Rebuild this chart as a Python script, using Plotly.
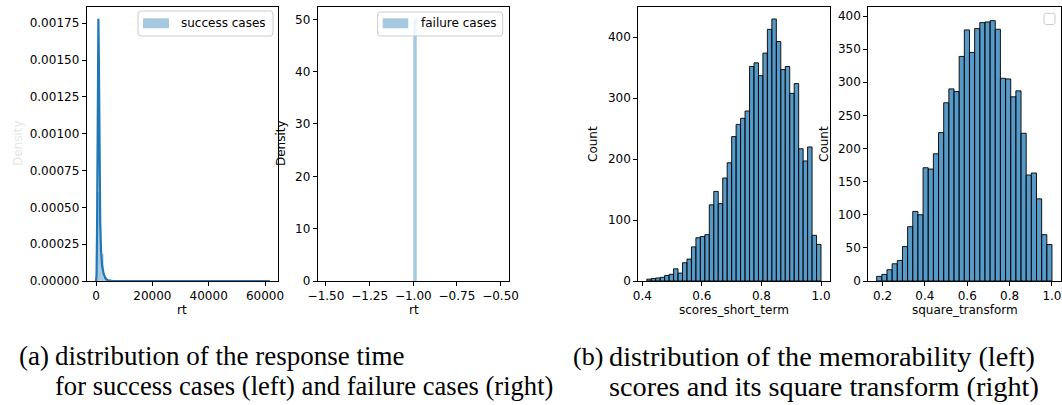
import numpy as np
import plotly.graph_objects as go

W, H = 1062, 405

# ---------------- data ----------------
# (a-left) response time, success cases: density histogram (50 bins) + KDE
rt_bin_lo = 200.0
rt_bin_width = 1230.0
rt_success_density = [0.000605, 0.000183, 0.000025, 0.000006, 0.000002] + [0.0] * 44 + [0.0000008]
rt_kde_x = [0, 200, 400, 550, 700, 850, 1000, 1150, 1300, 1500, 1800, 2200, 2700, 3300, 4000, 6000, 20000, 40000, 61700]
rt_kde_y = [0.0, 0.00004, 0.0004, 0.0012, 0.00172, 0.00178, 0.00155, 0.0011, 0.0007, 0.0004, 0.0002, 0.0001, 0.00005, 0.00002, 0.000006, 0.0, 0.0, 0.0, 0.0]

# (a-right) response time, failure cases
rt_fail_bin_lo = -1.0
rt_fail_bin_width = 0.02
rt_fail_density = [50.0]

# (b-left) memorability scores_short_term: counts, 39 bins
st_bin_lo = 0.415
st_bin_width = 0.015
st_counts = [3, 4, 5, 6, 9, 11, 20, 13, 30, 36, 56, 71, 73, 76, 125, 147, 127, 169, 194,
             237, 257, 267, 279, 352, 358, 337, 374, 413, 430, 393, 347, 352, 308, 324,
             217, 197, 220, 75, 60]

# (b-right) square_transform: counts, 34 bins
sq_bin_lo = 0.1722
sq_bin_width = 0.02435
sq_counts = [7, 10, 17, 26, 31, 52, 82, 105, 100, 171, 169, 192, 224, 269, 290, 286, 339,
             379, 345, 381, 390, 391, 393, 380, 306, 305, 278, 287, 223, 160, 163, 124, 70, 55]

# ---------------- helpers ----------------
def fx(x):
    return x / W

def fy(y):
    return 1 - y / H

def centers(lo, width, n):
    return lo + width * (np.arange(n) + 0.5)

FONT = "DejaVu Sans"
BLUE = "#1f77b4"

fig = go.Figure()

fig.add_trace(go.Bar(
    x=centers(rt_bin_lo, rt_bin_width, len(rt_success_density)), y=rt_success_density,
    width=rt_bin_width, marker=dict(color="rgba(31,119,180,0.4)", line=dict(width=0)),
    xaxis="x", yaxis="y", showlegend=False))
fig.add_trace(go.Scatter(
    x=rt_kde_x, y=rt_kde_y, mode="lines", line=dict(color=BLUE, width=2.2),
    xaxis="x", yaxis="y", showlegend=False))
fig.add_trace(go.Bar(
    x=centers(rt_fail_bin_lo, rt_fail_bin_width, len(rt_fail_density)), y=rt_fail_density,
    width=rt_fail_bin_width, marker=dict(color="rgba(31,119,180,0.4)", line=dict(width=0)),
    xaxis="x2", yaxis="y2", showlegend=False))
fig.add_trace(go.Bar(
    x=centers(st_bin_lo, st_bin_width, len(st_counts)), y=st_counts,
    width=st_bin_width, marker=dict(color="rgba(31,119,180,0.75)", line=dict(color="rgba(0,0,0,0.9)", width=1)),
    xaxis="x3", yaxis="y3", showlegend=False))
fig.add_trace(go.Bar(
    x=centers(sq_bin_lo, sq_bin_width, len(sq_counts)), y=sq_counts,
    width=sq_bin_width, marker=dict(color="rgba(31,119,180,0.75)", line=dict(color="rgba(0,0,0,0.9)", width=1)),
    xaxis="x4", yaxis="y4", showlegend=False))

axis_common = dict(showgrid=False, zeroline=False, showline=True, mirror=True,
                   linecolor="black", linewidth=1, ticks="outside", ticklen=4,
                   tickwidth=1, tickcolor="black", automargin=False,
                   tickfont=dict(family=FONT, size=12, color="black"))

ydom = [fy(281), fy(7)]
panels = {
    1: dict(x=(86.7, 278.0), xr=[-3300, 64600], yr=[0, 0.00186],
            xt=[0, 20000, 40000, 60000], xf="d",
            yt=[0, 0.00025, 0.0005, 0.00075, 0.001, 0.00125, 0.0015, 0.00175], yf=".5f"),
    2: dict(x=(317.7, 509.3), xr=[-1.5475, -0.45], yr=[0, 52.35],
            xt=[-1.5, -1.25, -1.0, -0.75, -0.5], xf=".2f",
            yt=[0, 10, 20, 30, 40, 50], yf="d"),
    3: dict(x=(638.3, 830.0), xr=[0.3866, 1.0302], yr=[0, 449.7],
            xt=[0.4, 0.6, 0.8, 1.0], xf=".1f",
            yt=[0, 100, 200, 300, 400], yf="d"),
    4: dict(x=(868.3, 1060.7), xr=[0.1327, 1.0413], yr=[0, 413.6],
            xt=[0.2, 0.4, 0.6, 0.8, 1.0], xf=".1f",
            yt=[0, 50, 100, 150, 200, 250, 300, 350, 400], yf="d"),
}
layout_axes = {}
for i, p in panels.items():
    sx = "" if i == 1 else str(i)
    layout_axes["xaxis" + sx] = dict(axis_common, domain=[fx(p["x"][0]), fx(p["x"][1])],
                                     range=p["xr"], tickvals=p["xt"], tickformat=p["xf"],
                                     anchor="y" + sx)
    layout_axes["yaxis" + sx] = dict(axis_common, domain=ydom, range=p["yr"],
                                     tickvals=p["yt"], tickformat=p["yf"],
                                     anchor="x" + sx)

def rrect(x0, y0, x1, y1, r=3):
    pts = [
        ("M", (x0 + r, y0)), ("L", (x1 - r, y0)), ("Q", (x1, y0), (x1, y0 + r)),
        ("L", (x1, y1 - r)), ("Q", (x1, y1), (x1 - r, y1)), ("L", (x0 + r, y1)),
        ("Q", (x0, y1), (x0, y1 - r)), ("L", (x0, y0 + r)), ("Q", (x0, y0), (x0 + r, y0)),
    ]
    s = ""
    for cmd, *cs in pts:
        s += cmd + " " + " ".join(f"{fx(a):.5f},{fy(b):.5f}" for a, b in cs) + " "
    return s + "Z"

shapes = [
    dict(type="path", path=rrect(138, 11, 273, 36), xref="paper", yref="paper",
         fillcolor="rgba(255,255,255,0.8)", line=dict(color="#cccccc", width=1), layer="above"),
    dict(type="rect", x0=fx(143), x1=fx(169), y0=fy(28.3), y1=fy(18.3), xref="paper", yref="paper",
         fillcolor="rgba(31,119,180,0.4)", line=dict(width=0), layer="above"),
    dict(type="path", path=rrect(377.7, 12, 502.7, 36), xref="paper", yref="paper",
         fillcolor="rgba(255,255,255,0.8)", line=dict(color="#cccccc", width=1), layer="above"),
    dict(type="rect", x0=fx(382.7), x1=fx(408.3), y0=fy(28.3), y1=fy(18.3), xref="paper", yref="paper",
         fillcolor="rgba(31,119,180,0.4)", line=dict(width=0), layer="above"),
    dict(type="path", path=rrect(1044, 13.3, 1055, 24.5, 2), xref="paper", yref="paper",
         fillcolor="rgba(255,255,255,0.8)", line=dict(color="#cccccc", width=1), layer="above"),
]

def ann(text, x, y, size=12, color="black", angle=0, xanchor="center", family=FONT):
    return dict(text=text, x=fx(x), y=fy(y), xref="paper", yref="paper", showarrow=False,
                xanchor=xanchor, yanchor="middle", textangle=angle,
                font=dict(family=family, size=size, color=color))

annotations = [
    ann("success cases", 179, 23.3, xanchor="left"),
    ann("failure cases", 419, 23.3, xanchor="left"),
    ann("rt", 182.3, 310),
    ann("rt", 413.5, 310),
    ann("Density", 18, 143, color="#e6e6e6", angle=-90),
    ann("Density", 281, 143, angle=-90),
    ann("Count", 593, 144, angle=-90),
    ann("Count", 824, 144, angle=-90),
    ann("scores_short_term", 734, 310),
    ann("square_transform", 964.5, 310),
]
SERIF = "Liberation Serif"
annotations += [
    ann("(a)", 17, 356, size=27, xanchor="left", family=SERIF),
    ann("distribution of the response time", 53, 356, size=27, xanchor="left", family=SERIF),
    ann("for success cases (left) and failure cases (right)", 53, 386, size=26.6, xanchor="left", family=SERIF),
    ann("(b)", 570.5, 356, size=26, xanchor="left", family=SERIF),
    ann("distribution of the memorability (left)", 606.7, 356, size=28.3, xanchor="left", family=SERIF),
    ann("scores and its square transform (right)", 606.7, 386, size=28.3, xanchor="left", family=SERIF),
]

fig.update_layout(
    width=W, height=H, margin=dict(l=0, r=0, t=0, b=0, autoexpand=False),
    paper_bgcolor="white", plot_bgcolor="white",
    showlegend=False, barmode="overlay",
    shapes=shapes, annotations=annotations,
    **layout_axes,
)

fig.write_html("out.html", config={"displayModeBar": False},
               post_script="document.body.style.margin='0px';document.body.style.overflow='hidden';")
